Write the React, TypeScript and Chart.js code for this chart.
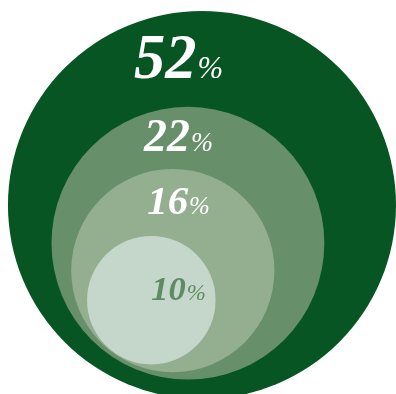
import React, { useEffect, useRef } from "react";
import { Chart, registerables } from "chart.js";

Chart.register(...registerables);

// ---- data ----
const labels = ["52", "22", "16", "10"];
const shares = [52, 22, 16, 10];

// ---- styles ----
const fillColors = ["#075522", "#668f6a", "#93af90", "#c5d7ca"];
const textColors = ["#ffffff", "#ffffff", "#ffffff", "#5e8a64"];
const FONT_FAMILY = '"Liberation Serif", "DejaVu Serif", serif';

// ---- derived layout (nested circles, area ~ cumulative share) ----
const total = shares.reduce((a, b) => a + b, 0);
const cumulative = shares.map((_, i) => shares.slice(i).reduce((a, b) => a + b, 0));
const relRadius = cumulative.map((c) => Math.pow(c / total, 0.48));
const points = relRadius.map((rel) => {
  const gap = 1 - rel;
  const d = 0.9 * Math.pow(gap, 1.2);
  const theta = ((104 + 21 * gap) * Math.PI) / 180;
  return { x: d * Math.cos(theta), y: -d * Math.sin(theta) };
});

const labelPlugin = {
  id: "nestedLabels",
  afterDatasetsDraw(chart: any) {
    const meta = chart.getDatasetMeta(0);
    const els = meta.data as any[];
    if (!els.length) return;
    const ctx = chart.ctx as CanvasRenderingContext2D;
    const cx = els.reduce((s, e) => s + e.x, 0) / els.length;
    ctx.save();
    ctx.textBaseline = "alphabetic";
    ctx.textAlign = "left";
    els.forEach((el, i) => {
      const r = el.options.radius;
      let cy: number;
      if (i < els.length - 1) {
        const nxt = els[i + 1];
        const top = el.y - r;
        const topNext = nxt.y - nxt.options.radius;
        cy = (top + topNext) / 2 - 2;
      } else {
        cy = el.y - 0.18 * r;
      }
      const digitSize = 34.5 * Math.pow(shares[i] / 10, 0.36);
      const pctSize = 3.9 * Math.sqrt(digitSize);
      const bigFont = `italic bold ${digitSize}px ${FONT_FAMILY}`;
      const smallFont = `italic ${pctSize}px ${FONT_FAMILY}`;
      ctx.font = bigFont;
      const w1 = ctx.measureText(labels[i]).width;
      ctx.font = smallFont;
      const w2 = ctx.measureText("%").width;
      const gapPx = 1;
      const startX = cx - (w1 + gapPx + w2) / 2;
      const baseline = cy + 0.33 * digitSize;
      ctx.fillStyle = textColors[i];
      ctx.font = bigFont;
      ctx.fillText(labels[i], startX, baseline);
      ctx.font = smallFont;
      ctx.fillText("%", startX + w1 + gapPx, baseline);
    });
    ctx.restore();
  },
};

export default function App() {
  const canvasRef = useRef<HTMLCanvasElement | null>(null);

  useEffect(() => {
    const canvas = canvasRef.current;
    if (!canvas) return;
    const radiusFn = (c: any) => {
      const chart = c.chart;
      const sx = chart.scales && chart.scales.x;
      if (!sx) return 0;
      const rel = relRadius[c.dataIndex];
      const v = Math.abs(sx.getPixelForValue(rel) - sx.getPixelForValue(0));
      return Number.isFinite(v) ? v : 0;
    };
    const chart = new Chart(canvas, {
      type: "scatter",
      data: {
        datasets: [
          {
            data: points,
            showLine: false,
            pointRadius: radiusFn,
            pointHoverRadius: radiusFn,
            pointBorderWidth: 0,
            pointHoverBorderWidth: 0,
            pointBackgroundColor: fillColors,
            pointHoverBackgroundColor: fillColors,
            pointBorderColor: fillColors,
            clip: false,
          } as any,
        ],
      },
      options: {
        animation: false,
        responsive: false,
        events: [],
        layout: { padding: 0, autoPadding: false },
        plugins: {
          legend: { display: false },
          tooltip: { enabled: false },
        },
        scales: {
          x: { type: "linear", min: -1.041, max: 1.0, display: false },
          y: { type: "linear", min: -0.974, max: 1.057, display: false },
        },
      },
      plugins: [labelPlugin],
    });
    return () => chart.destroy();
  }, []);

  return (
    <div style={{ position: "fixed", left: 0, top: 0, width: 396, height: 394, background: "#ffffff" }}>
      <canvas ref={canvasRef} width={396} height={394} style={{ display: "block" }} />
    </div>
  );
}
